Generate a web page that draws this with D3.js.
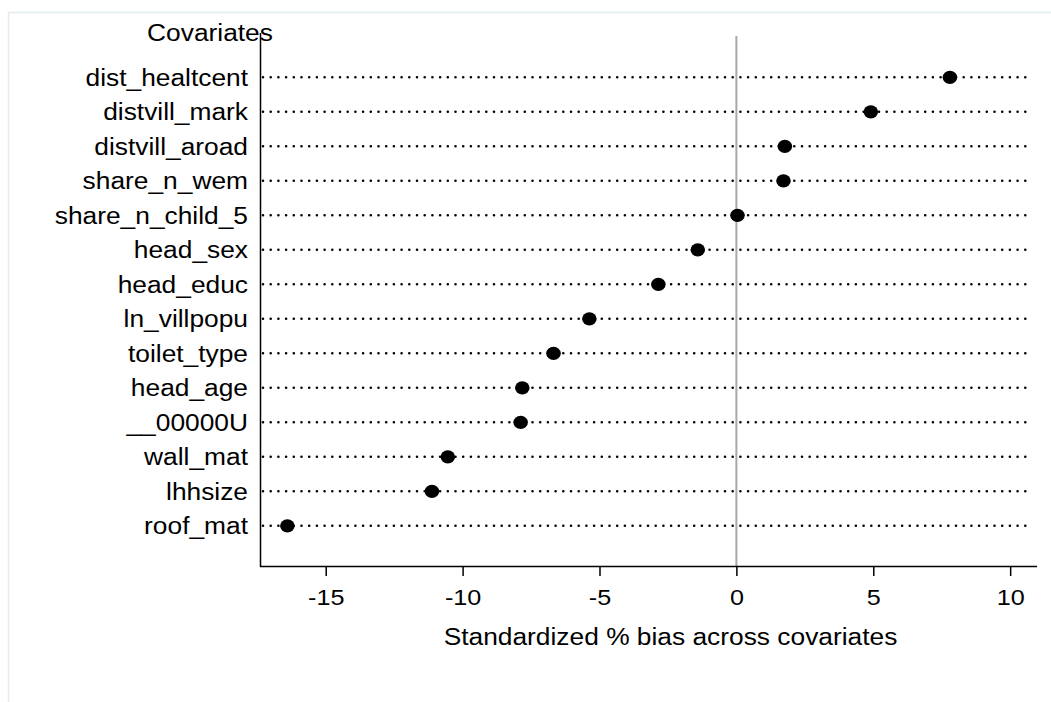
<!DOCTYPE html>
<html>
<head>
<meta charset="utf-8">
<script src="https://cdn.jsdelivr.net/npm/d3@7"></script>
<style>
  body { margin: 0; background: #fff; }
  text { font-family: "Liberation Sans", Arial, sans-serif; fill: #000; }
</style>
</head>
<body>
<div id="chart"></div>
<script>
// covariates, top to bottom
var covariates = ["dist_healtcent", "distvill_mark", "distvill_aroad", "share_n_wem",
  "share_n_child_5", "head_sex", "head_educ", "ln_villpopu", "toilet_type",
  "head_age", "__00000U", "wall_mat", "lhhsize", "roof_mat"];
// standardized % bias
var bias = [7.80, 4.91, 1.77, 1.72, 0.04, -1.41, -2.85, -5.37, -6.68, -7.82, -7.88, -10.54, -11.12, -16.40];
var xTicks = [-15, -10, -5, 0, 5, 10];
var xTitle = "Standardized % bias across covariates";
var yTitle = "Covariates";

var width = 1051, height = 702;
var sx = 1.145; // text in the original is stretched horizontally

var svg = d3.select("#chart").append("svg")
  .attr("width", width)
  .attr("height", height);

// faint outer frame
svg.append("path")
  .attr("d", "M8.5," + height + "V12.5H" + width)
  .attr("fill", "none")
  .attr("stroke", "#e4ecf0")
  .attr("stroke-width", 1.5);

var x = d3.scaleLinear().domain([-17.4, 10.98]).range([260, 1037]);
var y = d3.scalePoint().domain(covariates).range([77.3, 525.8]);

function label(g, tx, ty, txt, size, anchor) {
  return g.append("text")
    .attr("transform", "translate(" + tx + "," + ty + ") scale(" + sx + ",1)")
    .attr("text-anchor", anchor)
    .style("font-size", size + "px")
    .text(txt);
}

// dotted row lines
svg.append("g").selectAll("line")
  .data(covariates)
  .join("line")
  .attr("x1", 263)
  .attr("x2", 1032)
  .attr("y1", function(d){ return y(d); })
  .attr("y2", function(d){ return y(d); })
  .attr("stroke", "#000")
  .attr("stroke-width", 2.6)
  .attr("stroke-linecap", "round")
  .attr("stroke-dasharray", "0,7.7");

// zero reference line
svg.append("line")
  .attr("x1", x(0)).attr("x2", x(0))
  .attr("y1", 36).attr("y2", 566)
  .attr("stroke", "#a8a8a8")
  .attr("stroke-width", 2);

// axes
var xAxis = svg.append("g")
  .attr("transform", "translate(0,566)")
  .call(d3.axisBottom(x).tickValues(xTicks).tickSize(10).tickFormat(d3.format("d")));
xAxis.select(".domain").attr("d", "M260,0.5H1037").attr("stroke-width", 1.5);
xAxis.selectAll(".tick line").attr("stroke-width", 1.5);
xAxis.selectAll(".tick text").remove();
xAxis.selectAll(".tick").each(function(d){
  label(d3.select(this), 0, 38.5, d3.format("d")(d).replace("\u2212", "-"), 22, "middle");
});

svg.append("line")
  .attr("x1", 260.5).attr("x2", 260.5)
  .attr("y1", 33).attr("y2", 567)
  .attr("stroke", "#000")
  .attr("stroke-width", 1.5);

// row labels
covariates.forEach(function(c){
  label(svg, 248, y(c) + 8.2, c, 23, "end");
});

label(svg, 210, 40.5, yTitle, 23, "middle");
label(svg, 670.5, 644.5, xTitle, 23, "middle");

// markers
svg.append("g").selectAll("ellipse")
  .data(bias)
  .join("ellipse")
  .attr("cx", function(d){ return x(d); })
  .attr("cy", function(d, i){ return y(covariates[i]); })
  .attr("rx", 7.3)
  .attr("ry", 6.6)
  .attr("fill", "#000");
</script>
</body>
</html>
